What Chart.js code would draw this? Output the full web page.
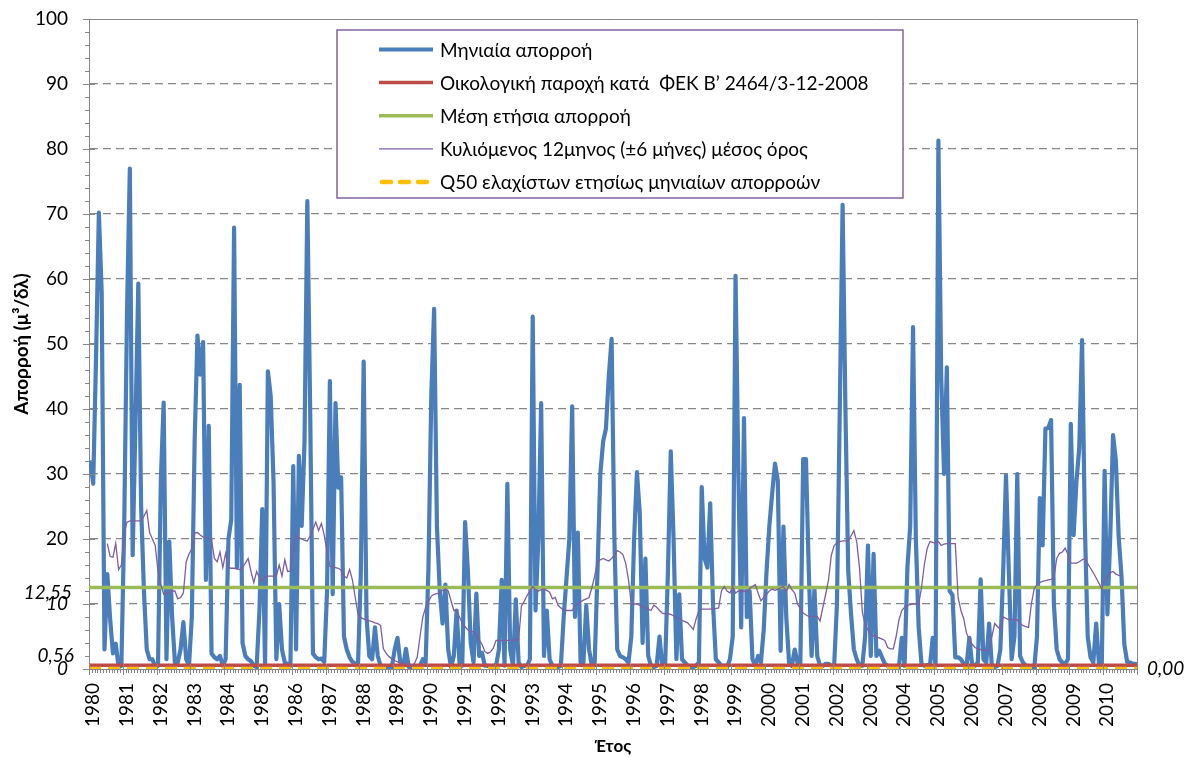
<!DOCTYPE html>
<html lang="el">
<head>
<meta charset="utf-8">
<title>Μηνιαία απορροή 1980-2010</title>
<script src="https://cdn.jsdelivr.net/npm/chart.js@4.4.1/dist/chart.umd.min.js"></script>
<style>
  html, body { margin: 0; padding: 0; background: #fff; }
  #wrap { width: 1186px; height: 758px; }
</style>
</head>
<body>
<div id="wrap"><canvas id="chart" width="1186" height="758"></canvas></div>
<script>
// Μηνιαία απορροή 1980-2010 με τα όρια αναφοράς

const yearLabels = ['1980', '1981', '1982', '1983', '1984', '1985', '1986', '1987', '1988', '1989',
    '1990', '1991', '1992', '1993', '1994', '1995', '1996', '1997', '1998', '1999',
    '2000', '2001', '2002', '2003', '2004', '2005', '2006', '2007', '2008', '2009', '2010'];

// one row per year, Jan..Dec
const monthlyRunoff = [
    31.8, 28.5, 48, 70.2, 58, 3, 14.6, 7.7, 2.4, 3.9, 0.3, 0.5,
    22, 55, 77, 17.5, 38, 59.3, 25, 12, 3, 1.5, 1.5, 0.3,
    0.5, 29, 41, 1.5, 19.6, 8, 1, 1, 3, 7.2, 1.5, 0.5,
    8, 35, 51.3, 45.3, 50.3, 13.7, 37.4, 2.4, 1.8, 1.5, 2, 0.5,
    1.5, 20, 23, 67.9, 15.6, 43.7, 4, 2, 1.5, 1.2, 0.5, 0.3,
    9, 24.6, 0.5, 45.8, 42, 28.8, 1.5, 10, 3, 1, 0.8, 0.5,
    31.2, 3, 32.8, 22, 35, 72, 40, 2.4, 1.8, 1.5, 1.6, 1.1,
    12, 44.3, 11.5, 40.9, 27.9, 29.5, 5, 3, 1.8, 1.1, 0.8, 0.8,
    15, 47.3, 8, 2, 1.5, 6.4, 2, 0.5, 0.2, 0, 0, 0.3,
    3, 4.8, 1, 0.3, 3.1, 0.3, 0.3, 0.2, 0.3, 0.5, 1.5, 1,
    15.6, 42, 55.4, 22, 12, 7, 13, 3, 0.3, 2, 9, 1,
    0.5, 22.6, 15, 4, 1, 11.6, 2, 2.5, 0.5, 0.5, 0.3, 0.5,
    0.5, 3, 13.7, 0.5, 28.5, 3, 0.5, 10.7, 1, 0.3, 0.5, 0.5,
    1.5, 54.2, 9, 20, 40.9, 2, 9, 1.5, 0.5, 0.3, 0.3, 0.5,
    8, 14, 20, 40.4, 8, 21, 1, 1, 9.7, 3, 0.5, 1,
    15, 30, 35, 37, 45, 50.8, 20, 3, 2, 1.8, 1.5, 1,
    5, 20, 30.3, 24, 4, 17, 2, 0.5, 0.3, 0.5, 5, 0.3,
    0.5, 15, 33.5, 20, 1.5, 11.5, 1.5, 1, 0.5, 0.3, 0.3, 0.5,
    1, 28, 17, 15.6, 25.5, 10, 1.5, 1, 0.5, 0.5, 0.3, 1.5,
    5, 60.5, 30, 6.4, 38.6, 8, 12, 1.5, 0.5, 2, 1, 6,
    15, 22, 27, 31.6, 29, 2.8, 21.9, 8, 1, 0.5, 3, 1,
    0.5, 32.3, 32.3, 15, 2, 12.3, 2, 0.5, 0.5, 0.8, 0.8, 0.5,
    0.5, 10, 40, 71.4, 40, 15, 8.4, 3, 1.5, 0.5, 0.5, 5,
    19, 2, 17.7, 2, 2.8, 1.8, 0.8, 0.5, 0.2, 0, 0, 0.3,
    4.8, 0.5, 15.6, 22, 52.6, 20, 6.4, 0.8, 0.5, 0.6, 0.5, 4.8,
    0.5, 81.3, 45, 30, 46.4, 12, 11.4, 1.8, 1.8, 1.5, 0.8, 0.5,
    4.8, 0.5, 0.5, 1, 13.8, 1.5, 1, 7, 0.3, 0.3, 0.5, 3,
    15, 29.8, 15, 1.5, 5, 30, 2, 1, 0.5, 0.5, 0.2, 0,
    5, 26.3, 19, 37, 37.1, 38.3, 10, 3, 1.5, 1, 0.8, 1.5,
    37.7, 20.6, 28.8, 34, 50.6, 22, 5, 1.8, 1, 7, 0.8, 0.5,
    30.5, 8.4, 20.3, 36, 32, 20.3, 14.3, 3.8, 1.1, 1, 0.8, 0.8
];

// 12-month centred mean, first value belongs to month index 6 (Jul 1980)
const ROLLING_START = 6;
const rollingMean = [
    19.3, 17.3, 17.2, 19.3, 15.3, 16,
    21, 22.6, 22.8, 22.8, 22.8, 22.8, 22.8, 23.5, 24.4, 21, 20, 19,
    15, 13, 11.5, 11.6, 11.8, 12, 12, 10.8, 11, 11.7, 16.5, 17.7,
    18.5, 20.9, 21, 20.6, 20.3, 20.2, 20.1, 19.9, 17, 16.5, 18, 15.6,
    17.8, 15.6, 15.5, 15.5, 15.4, 15.3, 15.6, 16.3, 17, 15, 13.3, 15,
    14, 13.5, 14.3, 14.3, 14.3, 14.3, 14.3, 16, 14.3, 16.8, 15, 15.1,
    18, 20.6, 20.2, 20, 19.8, 19.7, 20.5, 21.5, 22.6, 21.3, 22.4, 20.6,
    18, 15.8, 15.7, 15.6, 15.5, 15.2, 14.3, 14, 15.3, 13.7, 11, 8.4,
    7.9, 7.7, 7.5, 7.4, 7.3, 7.1, 7, 6.7, 3.1, 2.4, 1.9, 1.6,
    1.3, 1.1, 1, 0.9, 0.8, 0.7, 0.6, 0.8, 1.8, 5, 8, 9.5,
    10.4, 11.2, 11.5, 11.6, 11.7, 12.1, 12.3, 12, 10.5, 9, 9, 8,
    7, 6.5, 6, 5.8, 5.7, 5.2, 4.5, 3.8, 2.7, 2.4, 2.6, 3.2,
    4.4, 4.4, 4.4, 4.4, 4.4, 4.4, 4.4, 4.5, 4.5, 9.7, 10.4, 11.3,
    12, 12.7, 12.2, 12, 12.2, 12.3, 12.1, 11.8, 10.8, 11, 9.8, 9.4,
    9.1, 9, 9, 9, 9.7, 10, 10.3, 10.6, 10.8, 11, 12.5, 14.3,
    16.6, 16.8, 17, 16.8, 16.6, 17, 17.5, 18.2, 18, 17.6, 16.3, 13.7,
    10, 10, 10, 9.8, 9.6, 9.4, 9.2, 9, 9.8, 9.5, 9, 8.6,
    8.5, 8.5, 8.4, 8.2, 7.9, 7.7, 7.5, 7.3, 7.1, 6.6, 6.1, 7.7,
    9, 9.2, 9.2, 9.2, 9.2, 9.3, 9.3, 9.4, 12, 12.7, 12, 11.7,
    12.7, 11.7, 12, 12, 12, 11.8, 12.4, 12.7, 13, 11.7, 10.5, 11,
    11.5, 12, 12.3, 12.1, 12.3, 12.5, 12.7, 11.9, 13, 12.2, 11.7, 10,
    9.3, 8.6, 8.3, 8.1, 8.1, 8.1, 8.1, 7.4, 9.5, 11.5, 13.7, 17.5,
    19, 19.4, 19.6, 19.7, 19.7, 19.7, 20.5, 21.3, 19.6, 15.6, 8.8, 6.8,
    6, 5.3, 5.1, 4.9, 4.8, 4.6, 4.4, 3.3, 3.1, 3.1, 5, 7.5,
    9, 9.5, 9.8, 9.9, 10, 10, 10, 12.5, 16, 18.5, 19.6, 19.5,
    19.3, 19.6, 19, 19.2, 19.3, 19.3, 19.3, 19.3, 11, 9, 7.7, 5.5,
    4.5, 3.8, 3.3, 3.1, 3, 2.9, 2.9, 2.8, 5, 7, 6.5, 6.1,
    8, 7.8, 7.6, 7.6, 7.6, 7.6, 7, 6.7, 6.5, 6.4, 10, 12.3,
    13, 13.3, 13.5, 13.6, 13.7, 13.8, 14, 17, 17.8, 18, 18.6, 17.6,
    16.3, 16.3, 16.3, 16.5, 16.8, 17, 16.2, 15.5, 14.8, 14, 13.2, 12.3,
    13.7, 14.3, 14.8, 15, 14.6, 14.4, 14.3
];

const ecoFlow = 0.56;          // ΦΕΚ Β' 2464/3-12-2008
const meanAnnualRunoff = 12.55;
const q50MinMonthly = 0.00;

const seriesNames = [
    'Μηνιαία απορροή',
    'Οικολογική παροχή κατά  ΦΕΚ Β’ 2464/3-12-2008',
    'Μέση ετήσια απορροή',
    'Κυλιόμενος 12μηνος (±6 μήνες) μέσος όρος',
    'Q50 ελαχίστων ετησίως μηνιαίων απορροών'
];

const FONT = 'Lato, "Open Sans", "DejaVu Sans", sans-serif';
const AXIS_GREY = '#878787';
const N_MONTHS = monthlyRunoff.length;

function toComma(v) {
    return v.toFixed(2).replace('.', ',');
}

function flatLine(value) {
    return [{ x: 0, y: value }, { x: N_MONTHS, y: value }];
}

const monthlyPoints = monthlyRunoff.map((v, i) => ({ x: i + 0.5, y: v }));
const rollingPoints = rollingMean.map((v, i) => ({ x: ROLLING_START + i + 0.5, y: v }));

// frame, crossing tick marks and the value labels of the reference lines
const framePlugin = {
    id: 'frame',
    afterDraw(chart) {
        const { ctx, chartArea: a, scales: { x, y } } = chart;
        ctx.save();
        ctx.strokeStyle = AXIS_GREY;
        ctx.lineWidth = 1;
        ctx.beginPath();
        ctx.moveTo(a.left, a.top + 0.5);
        ctx.lineTo(a.right + 0.5, a.top + 0.5);
        ctx.lineTo(a.right + 0.5, a.bottom);
        ctx.stroke();

        // y ticks: major cross the axis, minor outside only
        for (let v = 0; v <= 100; v += 2) {
            const py = Math.round(y.getPixelForValue(v)) + 0.5;
            const major = v % 10 === 0;
            ctx.beginPath();
            ctx.moveTo(a.left - (major ? 6 : 4), py);
            ctx.lineTo(a.left + (major ? 6 : 0), py);
            ctx.stroke();
        }
        // x ticks: one per month, longer at each year
        for (let m = 0; m <= N_MONTHS; m++) {
            const px = Math.round(x.getPixelForValue(m)) + 0.5;
            const major = m % 12 === 0;
            ctx.beginPath();
            ctx.moveTo(px, a.bottom - (major ? 5 : 0));
            ctx.lineTo(px, a.bottom + (major ? 6 : 4));
            ctx.stroke();
        }

        ctx.fillStyle = '#000';
        ctx.font = 'italic 19px ' + FONT;
        ctx.textBaseline = 'middle';
        ctx.textAlign = 'right';
        ctx.fillText(toComma(meanAnnualRunoff), 72, y.getPixelForValue(meanAnnualRunoff) + 5);
        ctx.fillText(toComma(ecoFlow), 74, y.getPixelForValue(ecoFlow) - 9);
        ctx.textAlign = 'left';
        ctx.fillText(toComma(q50MinMonthly), a.right + 10, y.getPixelForValue(q50MinMonthly));
        ctx.restore();
    }
};

// legend box inside the plot, top centre
const legendPlugin = {
    id: 'boxLegend',
    afterDatasetsDraw(chart) {
        const ctx = chart.ctx;
        const left = 337, top = 30, width = 566, height = 168;
        const rowGap = 33.1;
        ctx.save();
        ctx.fillStyle = '#fff';
        ctx.fillRect(left, top, width, height);
        ctx.strokeStyle = '#8064A2';
        ctx.lineWidth = 1.5;
        ctx.strokeRect(left, top, width, height);

        ctx.font = '19px ' + FONT;
        ctx.textBaseline = 'middle';
        ctx.textAlign = 'left';
        chart.data.datasets
            .slice()
            .sort((a, b) => a.legendIndex - b.legendIndex)
            .forEach((ds, k) => {
                const cy = top + 19.5 + k * rowGap;
                ctx.strokeStyle = ds.borderColor;
                ctx.lineWidth = ds.borderWidth;
                ctx.lineCap = ds.borderDash ? 'round' : 'butt';
                ctx.setLineDash(ds.borderDash ? [9, 9] : []);
                ctx.beginPath();
                ctx.moveTo(ds.borderDash ? 382 : 379, cy);
                ctx.lineTo(433, cy);
                ctx.stroke();
                ctx.setLineDash([]);
                ctx.fillStyle = '#000';
                ctx.fillText(ds.label, 440, cy + 1);
            });
        ctx.restore();
    }
};

Chart.defaults.font.family = FONT;
Chart.defaults.color = '#000';

new Chart(document.getElementById('chart').getContext('2d'), {
    type: 'line',
    data: {
        datasets: [
            {
                label: seriesNames[0], legendIndex: 0, order: 5,
                data: monthlyPoints,
                borderColor: '#4A7EBB', borderWidth: 4.2,
                borderJoinStyle: 'round', borderCapStyle: 'round',
                pointRadius: 0, tension: 0
            },
            {
                label: seriesNames[1], legendIndex: 1, order: 4,
                data: flatLine(ecoFlow),
                borderColor: '#BE4B48', borderWidth: 3.5, pointRadius: 0
            },
            {
                label: seriesNames[2], legendIndex: 2, order: 3,
                data: flatLine(meanAnnualRunoff),
                borderColor: '#9BBB59', borderWidth: 3.5, pointRadius: 0
            },
            {
                label: seriesNames[3], legendIndex: 3, order: 2,
                data: rollingPoints,
                borderColor: '#7D5FA0', borderWidth: 1.3, pointRadius: 0, tension: 0
            },
            {
                label: seriesNames[4], legendIndex: 4, order: 1,
                data: flatLine(q50MinMonthly),
                borderColor: '#FFC000', borderWidth: 4.5, borderDash: [12, 7],
                pointRadius: 0
            }
        ]
    },
    options: {
        responsive: false,
        animation: false,
        devicePixelRatio: 1,
        layout: { padding: { left: 0, right: 49, top: 19, bottom: 0 } },
        plugins: {
            legend: { display: false },
            tooltip: { enabled: false }
        },
        scales: {
            x: {
                type: 'linear',
                min: 0,
                max: N_MONTHS,
                afterFit: scale => {
                    scale.height = 89;
                    scale.paddingLeft = 0;
                    scale.paddingRight = 0;
                },
                border: { color: AXIS_GREY, width: 1 },
                grid: { drawOnChartArea: false, drawTicks: false },
                ticks: {
                    stepSize: 12,
                    autoSkip: false,
                    minRotation: 90,
                    maxRotation: 90,
                    padding: 14,
                    labelOffset: 4,
                    font: { size: 19 },
                    callback: v => yearLabels[v / 12] || ''
                },
                title: {
                    display: true,
                    text: 'Έτος',
                    font: { size: 17, weight: 'bold' },
                    padding: { top: 0, bottom: 1 }
                }
            },
            y: {
                min: 0,
                max: 100,
                afterFit: scale => {
                    scale.width = 89;
                    scale.paddingTop = 0;
                    scale.paddingBottom = 0;
                },
                border: { color: AXIS_GREY, width: 1, dash: [8, 5] },
                grid: {
                    drawTicks: false,
                    lineWidth: 1.3,
                    color: c => (c.tick && c.tick.value > 0 && c.tick.value < 100) ? AXIS_GREY : 'rgba(0,0,0,0)'
                },
                ticks: {
                    stepSize: 10,
                    padding: 21,
                    font: c => ({ size: 19, style: (c.tick && c.tick.value <= 10) ? 'italic' : 'normal' })
                },
                title: {
                    display: true,
                    text: 'Απορροή (μ³/δλ)',
                    font: { size: 19, weight: 'bold' },
                    padding: { top: 10, bottom: 0 }
                }
            }
        }
    },
    plugins: [framePlugin, legendPlugin]
});
</script>
</body>
</html>
